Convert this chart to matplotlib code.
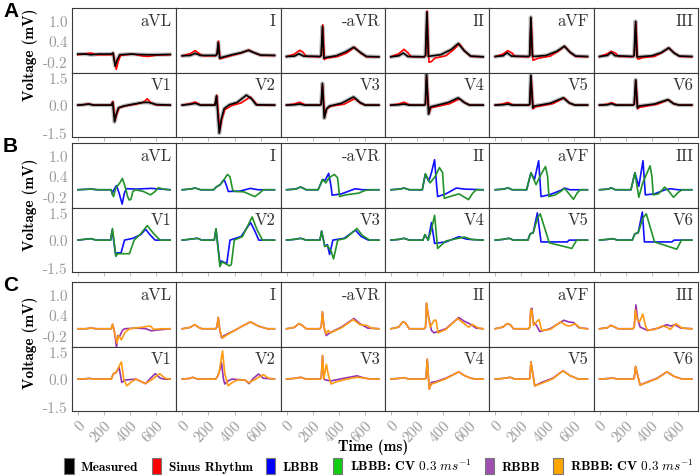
import matplotlib
matplotlib.use("Agg")
import matplotlib.pyplot as plt
from matplotlib.patches import Patch

plt.rcParams["axes.unicode_minus"] = False
plt.rcParams["mathtext.fontset"] = "cm"

# ---------------- data ----------------
TOP_LEADS = ["aVL", "I", "-aVR", "II", "aVF", "III"]
BOTTOM_LEADS = ["V1", "V2", "V3", "V4", "V5", "V6"]
X_TICKS = [0, 200, 400, 600]
Y_TICKS_TOP = [-0.2, 0.4, 1.0]
Y_TICKS_BOTTOM = [-1.5, 0.0, 1.5]
Y_LABELS_TOP = ["-0.2", "0.4", "1.0"]
Y_LABELS_BOTTOM = ["-1.5", "0.0", "1.5"]
GROUP_LETTERS = ["A", "B", "C"]
LEGEND_LABELS = ["Measured", "Sinus Rhythm", "LBBB", r"LBBB: CV $0.3\ ms^{-1}$",
                 "RBBB", r"RBBB: CV $0.3\ ms^{-1}$"]

# each trace: list of (time ms, voltage mV)
measured = {
    "aVL": [(0, 0.02), (60, 0.02), (100, 0.0), (160, 0.02), (255, 0.02), (268, 0.05), (285, -0.33),
            (300, -0.15), (320, 0.0), (400, 0.02), (520, 0.0), (600, 0.0), (705, 0.01)],
    "I": [(0, -0.03), (60, -0.02), (100, 0.04), (140, -0.02), (255, -0.02), (266, 0.02), (275, 0.36),
          (286, -0.1), (300, -0.08), (380, 0.0), (450, 0.06), (505, 0.13), (550, 0.06), (600, -0.01), (705, -0.02)],
    "-aVR": [(0, -0.05), (60, -0.04), (95, 0.03), (130, -0.04), (255, -0.05), (264, -0.02), (274, 0.83),
             (285, -0.1), (300, -0.08), (380, -0.03), (450, 0.08), (512, 0.22), (560, 0.08), (610, -0.05), (705, -0.06)],
    "II": [(0, -0.06), (60, -0.03), (95, 0.05), (130, -0.05), (255, -0.06), (264, -0.02), (275, 1.25),
           (286, -0.05), (300, -0.04), (380, 0.0), (460, 0.15), (515, 0.33), (560, 0.12), (610, -0.04), (705, -0.06)],
    "aVF": [(0, -0.05), (60, -0.03), (90, 0.06), (125, -0.04), (255, -0.05), (263, -0.02), (272, 1.1),
            (284, -0.04), (300, -0.05), (390, -0.02), (470, 0.1), (528, 0.25), (570, 0.08), (615, -0.04), (705, -0.05)],
    "III": [(0, -0.05), (60, -0.02), (88, 0.07), (120, -0.03), (255, -0.05), (264, -0.02), (275, 0.98),
            (286, -0.06), (300, -0.06), (400, -0.03), (470, 0.06), (528, 0.2), (570, 0.05), (610, -0.04), (705, -0.05)],
    "V1": [(0, 0.0), (40, 0.02), (80, 0.06), (120, 0.0), (255, 0.0), (266, 0.15), (280, -0.92), (293, -0.5),
           (310, -0.15), (350, -0.05), (420, 0.05), (500, 0.15), (540, 0.15), (600, 0.03), (705, 0.0)],
    "V2": [(0, 0.0), (60, 0.05), (100, 0.1), (140, 0.0), (250, 0.0), (262, 0.5), (283, -1.55), (298, -0.8),
           (320, -0.2), (360, 0.02), (420, 0.15), (490, 0.55), (530, 0.35), (565, 0.02), (705, 0.0)],
    "V3": [(0, 0.0), (60, 0.02), (100, 0.06), (140, 0.0), (255, 0.0), (264, 0.05), (274, 1.2), (288, -0.72),
           (305, -0.2), (330, -0.05), (420, 0.1), (512, 0.45), (560, 0.15), (600, 0.0), (705, 0.0)],
    "V4": [(0, 0.0), (60, 0.02), (100, 0.06), (140, 0.0), (255, 0.0), (263, 0.05), (272, 1.72), (288, -0.5),
           (302, -0.1), (330, -0.05), (440, 0.15), (515, 0.4), (560, 0.15), (600, 0.0), (705, 0.0)],
    "V5": [(0, 0.0), (60, 0.02), (95, 0.06), (130, 0.0), (255, 0.0), (263, 0.05), (272, 1.65), (287, -0.15),
           (300, -0.05), (420, 0.1), (520, 0.4), (565, 0.12), (610, 0.0), (705, 0.0)],
    "V6": [(0, 0.0), (60, 0.02), (90, 0.08), (125, 0.0), (255, 0.0), (265, 0.05), (276, 1.4), (289, -0.15),
           (302, -0.05), (420, 0.06), (522, 0.3), (565, 0.08), (610, 0.0), (705, 0.0)],
}

sinus = {
    "aVL": [(0, 0.0), (60, 0.03), (100, 0.05), (140, 0.0), (255, 0.0), (270, 0.05), (293, -0.43), (308, -0.2),
            (325, -0.02), (420, 0.02), (500, -0.04), (540, -0.05), (600, -0.01), (705, 0.0)],
    "I": [(0, -0.03), (60, 0.03), (100, 0.12), (135, 0.02), (160, -0.03), (255, -0.03), (267, 0.02), (277, 0.4),
          (289, -0.12), (305, -0.1), (380, -0.02), (450, 0.05), (510, 0.14), (555, 0.05), (600, -0.02), (705, -0.02)],
    "-aVR": [(0, -0.06), (60, 0.02), (100, 0.13), (125, 0.08), (150, -0.05), (255, -0.06), (267, -0.02),
             (277, 0.88), (289, -0.14), (305, -0.1), (390, -0.05), (460, 0.05), (520, 0.22), (565, 0.05),
             (610, -0.06), (705, -0.06)],
    "II": [(0, -0.06), (60, 0.03), (100, 0.16), (130, 0.06), (155, -0.06), (255, -0.06), (267, -0.02),
           (277, 1.28), (291, -0.22), (310, -0.2), (335, -0.1), (420, -0.03), (480, 0.15), (522, 0.32),
           (565, 0.1), (610, -0.05), (705, -0.06)],
    "aVF": [(0, -0.06), (60, 0.02), (95, 0.12), (130, 0.05), (150, -0.05), (255, -0.06), (265, -0.02),
            (274, 1.06), (288, -0.16), (305, -0.14), (330, -0.1), (420, -0.04), (480, 0.1), (532, 0.25),
            (575, 0.06), (615, -0.05), (705, -0.06)],
    "III": [(0, -0.06), (60, 0.03), (90, 0.1), (125, 0.04), (145, -0.05), (255, -0.06), (266, -0.02),
            (278, 0.96), (290, -0.12), (305, -0.12), (330, -0.08), (420, -0.05), (480, 0.07), (530, 0.2),
            (575, 0.04), (615, -0.05), (705, -0.06)],
    "V1": [(0, 0.0), (60, 0.04), (90, 0.06), (120, 0.0), (255, 0.0), (268, 0.2), (284, -0.85), (297, -0.5),
           (315, -0.15), (360, -0.05), (440, 0.05), (500, 0.15), (530, 0.35), (555, 0.15), (600, 0.0), (705, 0.0)],
    "V2": [(0, 0.0), (60, 0.08), (100, 0.17), (140, 0.0), (250, 0.0), (264, 0.55), (287, -1.42), (302, -0.8),
           (325, -0.25), (380, -0.02), (450, 0.12), (520, 0.45), (550, 0.2), (575, 0.0), (705, 0.0)],
    "V3": [(0, 0.0), (60, 0.06), (100, 0.16), (140, 0.02), (160, 0.0), (255, 0.0), (265, 0.05), (276, 1.1),
           (291, -0.65), (308, -0.2), (340, -0.05), (440, 0.05), (523, 0.36), (565, 0.1), (605, 0.0), (705, 0.0)],
    "V4": [(0, 0.0), (60, 0.06), (100, 0.16), (140, 0.02), (160, 0.0), (255, 0.0), (265, 0.05), (273, 1.6),
           (292, -0.45), (305, -0.15), (335, -0.1), (450, 0.08), (525, 0.35), (565, 0.12), (605, 0.0), (705, 0.0)],
    "V5": [(0, 0.0), (60, 0.06), (95, 0.15), (130, 0.03), (150, 0.0), (255, 0.0), (265, 0.05), (274, 1.6),
           (290, -0.2), (305, -0.1), (440, 0.08), (528, 0.4), (570, 0.1), (610, 0.0), (705, 0.0)],
    "V6": [(0, 0.0), (60, 0.05), (90, 0.13), (125, 0.03), (145, 0.0), (255, 0.0), (266, 0.05), (278, 1.35),
           (292, -0.2), (305, -0.12), (440, 0.05), (528, 0.3), (570, 0.06), (610, 0.0), (705, 0.0)],
}

lbbb = {
    "aVL": [(0, 0.0), (100, 0.02), (150, 0.0), (255, 0.0), (262, -0.12), (275, 0.0), (295, 0.12), (315, -0.1),
            (338, -0.42), (355, -0.1), (370, 0.03), (450, 0.02), (560, 0.04), (705, 0.0)],
    "I": [(0, 0.0), (60, 0.02), (100, 0.05), (140, 0.0), (240, 0.0), (260, 0.08), (290, 0.15), (320, 0.3),
          (340, 0.1), (352, -0.05), (440, -0.04), (520, 0.04), (580, 0.0), (705, 0.0)],
    "-aVR": [(0, 0.0), (70, 0.02), (108, 0.08), (125, 0.05), (150, 0.0), (240, 0.0), (255, 0.12), (275, 0.3),
             (295, 0.28), (322, 0.48), (340, 0.1), (348, -0.16), (420, -0.12), (525, 0.03), (580, 0.0), (705, 0.0)],
    "II": [(0, 0.0), (70, 0.02), (100, 0.05), (140, 0.0), (240, 0.0), (262, 0.45), (290, 0.25), (310, 0.5),
           (334, 0.88), (350, 0.1), (357, -0.2), (420, -0.12), (500, 0.05), (560, 0.02), (705, 0.0)],
    "aVF": [(0, 0.0), (70, 0.02), (95, 0.06), (130, 0.0), (240, 0.0), (273, 0.5), (300, 0.3), (332, 0.85),
            (350, -0.2), (420, -0.14), (500, -0.02), (530, 0.05), (570, 0.0), (705, 0.0)],
    "III": [(0, 0.0), (70, 0.02), (88, 0.06), (120, 0.0), (240, 0.0), (270, 0.5), (300, 0.1), (332, 0.85),
            (350, -0.15), (420, -0.12), (500, 0.0), (540, 0.03), (600, 0.0), (705, 0.0)],
    "V1": [(0, 0.0), (60, 0.05), (100, 0.08), (140, 0.0), (250, 0.0), (262, 0.55), (290, -0.88), (300, -0.7),
           (330, -0.7), (356, 0.0), (420, 0.1), (480, 0.3), (517, 0.6), (550, 0.3), (590, 0.0), (705, 0.0)],
    "V2": [(0, 0.0), (60, 0.05), (116, 0.1), (150, 0.0), (245, 0.0), (258, 0.62), (288, -1.3), (300, -1.15),
           (340, -1.3), (365, 0.0), (450, 0.2), (522, 0.97), (555, 0.5), (585, 0.0), (705, 0.0)],
    "V3": [(0, 0.0), (60, 0.04), (108, 0.1), (150, 0.0), (255, 0.0), (268, 0.5), (292, -0.35), (312, -0.25),
           (329, -0.79), (354, 0.0), (440, 0.1), (526, 0.55), (570, 0.2), (625, 0.0), (705, 0.0)],
    "V4": [(0, 0.0), (60, 0.04), (101, 0.1), (140, 0.0), (245, 0.0), (260, 0.3), (285, 0.0), (310, 0.97),
           (334, -0.18), (420, -0.1), (520, 0.19), (580, 0.05), (705, 0.0)],
    "V5": [(0, 0.0), (60, 0.04), (105, 0.1), (140, 0.0), (250, 0.0), (267, 0.35), (290, 0.4), (322, 1.5),
           (350, -0.1), (550, -0.1), (565, 0.0), (705, 0.0)],
    "V6": [(0, 0.0), (60, 0.04), (100, 0.08), (140, 0.0), (250, 0.0), (270, 0.35), (295, 0.4), (327, 1.55),
           (343, -0.1), (553, -0.1), (570, 0.0), (705, 0.0)],
}

lbbb_cv = {
    "aVL": [(0, 0.0), (100, 0.02), (150, 0.0), (255, 0.0), (262, -0.12), (272, -0.2), (290, 0.05), (320, 0.2),
            (340, 0.33), (360, 0.1), (380, -0.2), (392, -0.3), (405, -0.28), (420, -0.05), (440, 0.0),
            (500, -0.05), (555, -0.15), (590, -0.05), (615, 0.06), (650, 0.02), (705, 0.0)],
    "I": [(0, 0.0), (60, 0.02), (100, 0.05), (140, 0.0), (240, 0.0), (260, 0.08), (290, 0.15), (320, 0.3),
          (345, 0.45), (365, 0.38), (385, 0.0), (400, -0.05), (470, -0.06), (555, -0.2), (590, -0.1),
          (620, 0.0), (705, 0.0)],
    "-aVR": [(0, 0.0), (70, 0.02), (108, 0.08), (125, 0.05), (150, 0.0), (240, 0.0), (255, 0.12), (275, 0.3),
             (300, 0.2), (325, 0.35), (365, 0.45), (390, 0.35), (405, -0.2), (450, -0.15), (550, -0.1),
             (600, -0.02), (650, 0.0), (705, 0.0)],
    "II": [(0, 0.0), (70, 0.02), (100, 0.05), (140, 0.0), (240, 0.0), (264, 0.47), (300, 0.2), (340, 0.4),
           (371, 0.65), (395, 0.5), (408, -0.25), (450, -0.2), (520, -0.12), (593, -0.29), (625, -0.1),
           (653, 0.0), (705, 0.0)],
    "aVF": [(0, 0.0), (70, 0.02), (95, 0.06), (130, 0.0), (240, 0.0), (273, 0.5), (312, 0.15), (350, 0.45),
            (384, 0.68), (400, 0.4), (410, -0.2), (460, -0.15), (500, -0.05), (530, 0.04), (560, -0.1),
            (598, -0.28), (625, -0.1), (650, 0.0), (705, 0.0)],
    "III": [(0, 0.0), (70, 0.02), (88, 0.06), (120, 0.0), (240, 0.0), (270, 0.5), (300, -0.22), (330, 0.2),
            (386, 0.7), (400, 0.4), (410, -0.15), (450, -0.12), (498, 0.08), (530, -0.05), (565, -0.22),
            (600, -0.08), (630, 0.0), (705, 0.0)],
    "V1": [(0, 0.0), (60, 0.05), (100, 0.08), (140, 0.0), (250, 0.0), (264, 0.64), (290, -0.88), (305, -0.75),
           (394, -0.75), (430, 0.0), (480, 0.35), (530, 0.8), (580, 0.35), (628, 0.0), (705, 0.0)],
    "V2": [(0, 0.0), (60, 0.05), (116, 0.1), (150, 0.0), (245, 0.0), (258, 0.62), (288, -1.46), (305, -1.2),
           (330, -1.3), (360, -1.42), (375, -1.35), (398, 0.0), (460, 0.2), (534, 1.28), (570, 0.6),
           (614, 0.0), (705, 0.0)],
    "V3": [(0, 0.0), (60, 0.04), (108, 0.1), (150, 0.0), (255, 0.0), (268, 0.5), (292, -0.35), (312, -0.3),
           (340, -0.6), (359, -1.04), (391, 0.0), (450, 0.1), (538, 0.64), (580, 0.25), (635, 0.0), (705, 0.0)],
    "V4": [(0, 0.0), (60, 0.04), (101, 0.1), (140, 0.0), (245, 0.0), (260, 0.3), (285, 0.0), (310, 0.6),
           (334, 1.37), (357, -0.46), (420, -0.05), (560, 0.17), (620, 0.03), (705, 0.0)],
    "V5": [(0, 0.0), (60, 0.04), (105, 0.1), (140, 0.0), (250, 0.0), (267, 0.35), (290, 0.4), (322, 1.2),
           (344, 1.45), (413, -0.15), (585, -0.46), (622, 0.0), (705, 0.0)],
    "V6": [(0, 0.0), (60, 0.04), (100, 0.08), (140, 0.0), (250, 0.0), (270, 0.35), (295, 0.4), (330, 1.2),
           (357, 1.45), (420, -0.1), (590, -0.5), (626, 0.0), (705, 0.0)],
}

rbbb = {
    "aVL": [(0, 0.0), (60, 0.0), (100, 0.02), (140, 0.0), (255, 0.0), (265, 0.13), (280, -0.1), (295, -0.55),
            (305, -0.2), (315, -0.25), (340, -0.05), (356, 0.0), (450, 0.02), (520, 0.0), (560, -0.06),
            (600, -0.04), (705, 0.0)],
    "I": [(0, 0.0), (60, 0.04), (95, 0.12), (130, 0.03), (150, 0.0), (255, 0.0), (265, 0.05), (275, 0.33),
          (288, -0.05), (300, -0.26), (320, -0.2), (400, -0.05), (470, 0.1), (522, 0.2), (580, 0.08),
          (650, 0.0), (705, 0.0)],
    "-aVR": [(0, 0.0), (60, 0.04), (93, 0.15), (120, 0.1), (150, 0.0), (255, 0.0), (265, 0.05), (274, 0.5),
             (288, 0.0), (303, -0.2), (330, -0.12), (420, 0.05), (515, 0.3), (560, 0.15), (620, 0.02), (705, 0.0)],
    "II": [(0, 0.0), (60, 0.05), (90, 0.2), (110, 0.18), (140, 0.0), (255, 0.0), (265, 0.05), (272, 0.75),
           (285, 0.4), (310, -0.05), (330, -0.12), (420, 0.0), (519, 0.33), (560, 0.22), (600, 0.15),
           (650, 0.02), (705, 0.0)],
    "aVF": [(0, 0.0), (60, 0.05), (90, 0.15), (115, 0.12), (140, 0.0), (255, 0.0), (264, 0.05), (272, 0.57),
            (280, 0.6), (290, 0.2), (315, 0.1), (340, -0.08), (420, 0.0), (525, 0.25), (560, 0.2),
            (600, 0.18), (640, 0.03), (705, 0.0)],
    "III": [(0, 0.0), (60, 0.03), (85, 0.1), (115, 0.05), (140, 0.0), (255, 0.0), (265, 0.05), (278, 0.7),
            (290, 0.3), (310, 0.05), (367, -0.05), (450, 0.02), (514, 0.12), (545, 0.08), (575, 0.12),
            (620, 0.02), (705, 0.0)],
    "V1": [(0, 0.0), (60, 0.02), (90, 0.04), (120, 0.0), (255, 0.0), (271, 0.3), (290, 0.35), (315, 0.64),
           (335, -0.18), (360, -0.05), (443, 0.0), (517, -0.25), (555, 0.05), (591, 0.3), (630, 0.05),
           (660, 0.0), (705, 0.0)],
    "V2": [(0, 0.0), (60, 0.04), (79, 0.1), (110, 0.02), (140, 0.0), (255, 0.0), (270, 0.15), (282, 0.37),
           (300, 0.9), (315, 0.0), (325, -0.27), (350, -0.1), (380, 0.0), (480, -0.05), (510, -0.25),
           (545, 0.05), (583, 0.28), (620, 0.05), (705, 0.0)],
    "V3": [(0, 0.0), (60, 0.04), (108, 0.1), (150, 0.0), (255, 0.0), (265, 0.05), (275, 1.3), (285, 0.0),
           (300, -0.05), (340, -0.1), (440, 0.05), (538, 0.18), (600, 0.05), (650, 0.0), (705, 0.0)],
    "V4": [(0, 0.0), (60, 0.04), (100, 0.08), (140, 0.0), (255, 0.0), (268, 0.05), (278, 1.1), (293, -0.55),
           (310, -0.18), (340, -0.15), (420, 0.05), (519, 0.4), (560, 0.2), (610, 0.05), (650, 0.0), (705, 0.0)],
    "V5": [(0, 0.0), (60, 0.04), (115, 0.1), (150, 0.0), (255, 0.0), (265, 0.05), (273, 0.95), (302, -0.37),
           (350, -0.2), (440, 0.05), (518, 0.46), (570, 0.2), (635, 0.0), (705, 0.0)],
    "V6": [(0, 0.0), (60, 0.03), (100, 0.06), (140, 0.0), (255, 0.0), (265, 0.05), (275, 0.7), (310, -0.33),
           (350, -0.2), (440, 0.05), (514, 0.4), (570, 0.15), (632, 0.0), (705, 0.0)],
}

rbbb_cv = {
    "aVL": [(0, 0.0), (60, 0.0), (100, 0.02), (140, 0.0), (255, 0.0), (265, 0.13), (280, -0.1), (298, -0.42),
            (310, -0.2), (332, -0.32), (360, -0.1), (395, 0.0), (500, 0.05), (553, 0.08), (580, -0.02),
            (640, 0.0), (705, 0.0)],
    "I": [(0, 0.0), (60, 0.04), (95, 0.12), (130, 0.03), (150, 0.0), (255, 0.0), (265, 0.05), (275, 0.33),
          (288, -0.05), (305, -0.28), (325, -0.22), (400, -0.05), (470, 0.1), (522, 0.2), (580, 0.08),
          (650, 0.0), (705, 0.0)],
    "-aVR": [(0, 0.0), (60, 0.04), (93, 0.15), (120, 0.1), (150, 0.0), (255, 0.0), (265, 0.05), (274, 0.5),
             (288, 0.0), (303, -0.15), (318, -0.05), (335, -0.12), (420, 0.03), (510, 0.27), (560, 0.12),
             (611, 0.1), (650, 0.02), (705, 0.0)],
    "II": [(0, 0.0), (60, 0.05), (90, 0.2), (110, 0.18), (140, 0.0), (255, 0.0), (265, 0.05), (272, 0.75),
           (285, 0.4), (300, 0.05), (330, 0.25), (345, 0.25), (360, -0.12), (420, -0.02), (510, 0.3),
           (560, 0.15), (593, 0.05), (625, 0.12), (670, 0.02), (705, 0.0)],
    "aVF": [(0, 0.0), (60, 0.05), (90, 0.15), (115, 0.12), (140, 0.0), (255, 0.0), (264, 0.05), (272, 0.57),
            (280, 0.55), (292, 0.1), (315, 0.2), (335, 0.27), (355, -0.05), (420, -0.02), (500, 0.2),
            (540, 0.1), (570, 0.08), (610, 0.15), (650, 0.02), (705, 0.0)],
    "III": [(0, 0.0), (60, 0.03), (85, 0.1), (115, 0.05), (140, 0.0), (255, 0.0), (265, 0.05), (274, 0.55),
            (290, 0.25), (305, 0.2), (331, 0.43), (350, 0.1), (367, -0.05), (420, -0.02), (477, 0.08),
            (515, 0.05), (540, -0.02), (583, 0.15), (630, 0.02), (705, 0.0)],
    "V1": [(0, 0.0), (60, 0.02), (90, 0.04), (120, 0.0), (255, 0.0), (271, 0.3), (290, 0.35), (332, 0.95),
           (350, 0.0), (374, -0.37), (410, -0.15), (443, 0.0), (517, -0.25), (570, 0.0), (625, 0.3),
           (665, 0.05), (705, 0.0)],
    "V2": [(0, 0.0), (60, 0.04), (79, 0.1), (110, 0.02), (140, 0.0), (255, 0.0), (270, 0.15), (282, 0.37),
           (308, 1.56), (325, 0.3), (350, -0.37), (380, -0.2), (420, -0.05), (480, -0.05), (510, -0.2),
           (560, 0.0), (620, 0.25), (660, 0.05), (705, 0.0)],
    "V3": [(0, 0.0), (60, 0.04), (108, 0.1), (150, 0.0), (255, 0.0), (265, 0.05), (275, 1.3), (285, 0.0),
           (304, 0.82), (320, 0.2), (340, -0.27), (380, -0.15), (460, 0.0), (540, 0.1), (600, 0.05),
           (650, 0.0), (705, 0.0)],
    "V4": [(0, 0.0), (60, 0.04), (100, 0.08), (140, 0.0), (255, 0.0), (268, 0.05), (278, 1.1), (293, -0.55),
           (310, -0.27), (340, -0.2), (420, 0.02), (519, 0.4), (560, 0.2), (610, 0.05), (650, 0.0), (705, 0.0)],
    "V5": [(0, 0.0), (60, 0.04), (115, 0.1), (150, 0.0), (255, 0.0), (265, 0.05), (273, 0.95), (302, -0.37),
           (350, -0.25), (440, 0.02), (518, 0.46), (570, 0.2), (635, 0.0), (705, 0.0)],
    "V6": [(0, 0.0), (60, 0.03), (100, 0.06), (140, 0.0), (255, 0.0), (265, 0.05), (275, 0.7), (310, -0.33),
           (350, -0.22), (440, 0.03), (514, 0.4), (570, 0.15), (632, 0.0), (705, 0.0)],
}

# ---------------- style ----------------
C_MEAS, C_SINUS = "black", "#ff0000"
C_LBBB, C_LBBB_CV = "#1010ff", "#22922a"
C_RBBB, C_RBBB_CV = "#9433b0", "#ff9a12"
LEG_COLORS = ["black", "#ff0000", "#0000ff", "#11cc11", "#a050b0", "#ffa500"]

GROUPS = [
    [(measured, C_MEAS, "halo"), (sinus, C_SINUS, None), (measured, C_MEAS, None)],
    [(lbbb, C_LBBB, None), (lbbb_cv, C_LBBB_CV, None)],
    [(rbbb, C_RBBB, None), (rbbb_cv, C_RBBB_CV, None)],
]

W, H = 700, 477
fig = plt.figure(figsize=(W / 100, H / 100), dpi=100)

X0, CW = 72.0, 104.33
GROUP_TOPS = [9.0, 144.0, 283.0]
RH = 64.5
TICK_GRAY = "#9a9a9a"
SPINE = "#3a3a3a"
SERIF = "cmr10"
BOLD = "cmb10"


def add_ax(px_left, px_top, pw, ph):
    return fig.add_axes([px_left / W, 1 - (px_top + ph) / H, pw / W, ph / H])


for g, traces in enumerate(GROUPS):
    for r, leads in enumerate([TOP_LEADS, BOTTOM_LEADS]):
        for c, lead in enumerate(leads):
            ax = add_ax(X0 + c * CW, GROUP_TOPS[g] + r * RH, CW, RH)
            for data, color, kind in traces:
                pts = data[lead]
                t = [p[0] for p in pts]
                v = [p[1] for p in pts]
                if kind == "halo":
                    ax.plot(t, v, color="0.55", lw=3.0, alpha=0.55, solid_joinstyle="round",
                            solid_capstyle="round")
                else:
                    ax.plot(t, v, color=color, lw=1.2, solid_joinstyle="round")
            ax.set_xlim(-45, 752)
            if r == 0:
                ax.set_ylim(-0.52, 1.37)
                ax.set_yticks(Y_TICKS_TOP)
                ylabels = Y_LABELS_TOP
            else:
                ax.set_ylim(-1.76, 1.8)
                ax.set_yticks(Y_TICKS_BOTTOM)
                ylabels = Y_LABELS_BOTTOM
            if c == 0:
                ax.set_yticklabels(ylabels, fontfamily=SERIF, fontsize=11, color=TICK_GRAY)
            else:
                ax.set_yticklabels([])
            ax.tick_params(axis="y", length=0, pad=3)
            ax.set_xticks(X_TICKS)
            if r == 1:
                ax.tick_params(axis="x", length=3, width=0.6, color="#b0b0b0", direction="out", pad=2)
                if g == 2:
                    ax.set_xticklabels([str(x) for x in X_TICKS], fontfamily=SERIF, fontsize=11,
                                       color=TICK_GRAY, rotation=45, ha="right",
                                       rotation_mode="anchor")
                else:
                    ax.set_xticklabels([])
            else:
                ax.tick_params(axis="x", length=0)
                ax.set_xticklabels([])
            for s in ax.spines.values():
                s.set_color(SPINE)
                s.set_linewidth(0.8)
            ax.text(0.955, 0.93, lead, transform=ax.transAxes, ha="right", va="top",
                    fontfamily=SERIF, fontsize=12, color="#333333")

    fig.text(3 / W, 1 - (GROUP_TOPS[g] - 7) / H, GROUP_LETTERS[g], ha="left", va="top",
             fontfamily="Liberation Sans", fontweight="bold", fontsize=15)

for yc in [55, 205, 343]:
    fig.text(30 / W, 1 - yc / H, "Voltage (mV)", rotation=90, ha="center", va="center",
             fontfamily=BOLD, fontsize=11)

fig.text(373 / W, 1 - 447 / H, "Time (ms)", ha="center", va="center", fontfamily=BOLD, fontsize=11)

handles = [Patch(facecolor=col, edgecolor="#777777", linewidth=0.8) for col in LEG_COLORS]
fig.legend(handles, LEGEND_LABELS, loc="center", bbox_to_anchor=(379 / W, 1 - 467 / H), ncol=6,
           frameon=False, prop={"family": BOLD, "size": 9.6}, handlelength=0.72, handleheight=1.45,
           handletextpad=0.55, columnspacing=1.0, borderaxespad=0, borderpad=0)

fig.savefig("out.png", dpi=100)
